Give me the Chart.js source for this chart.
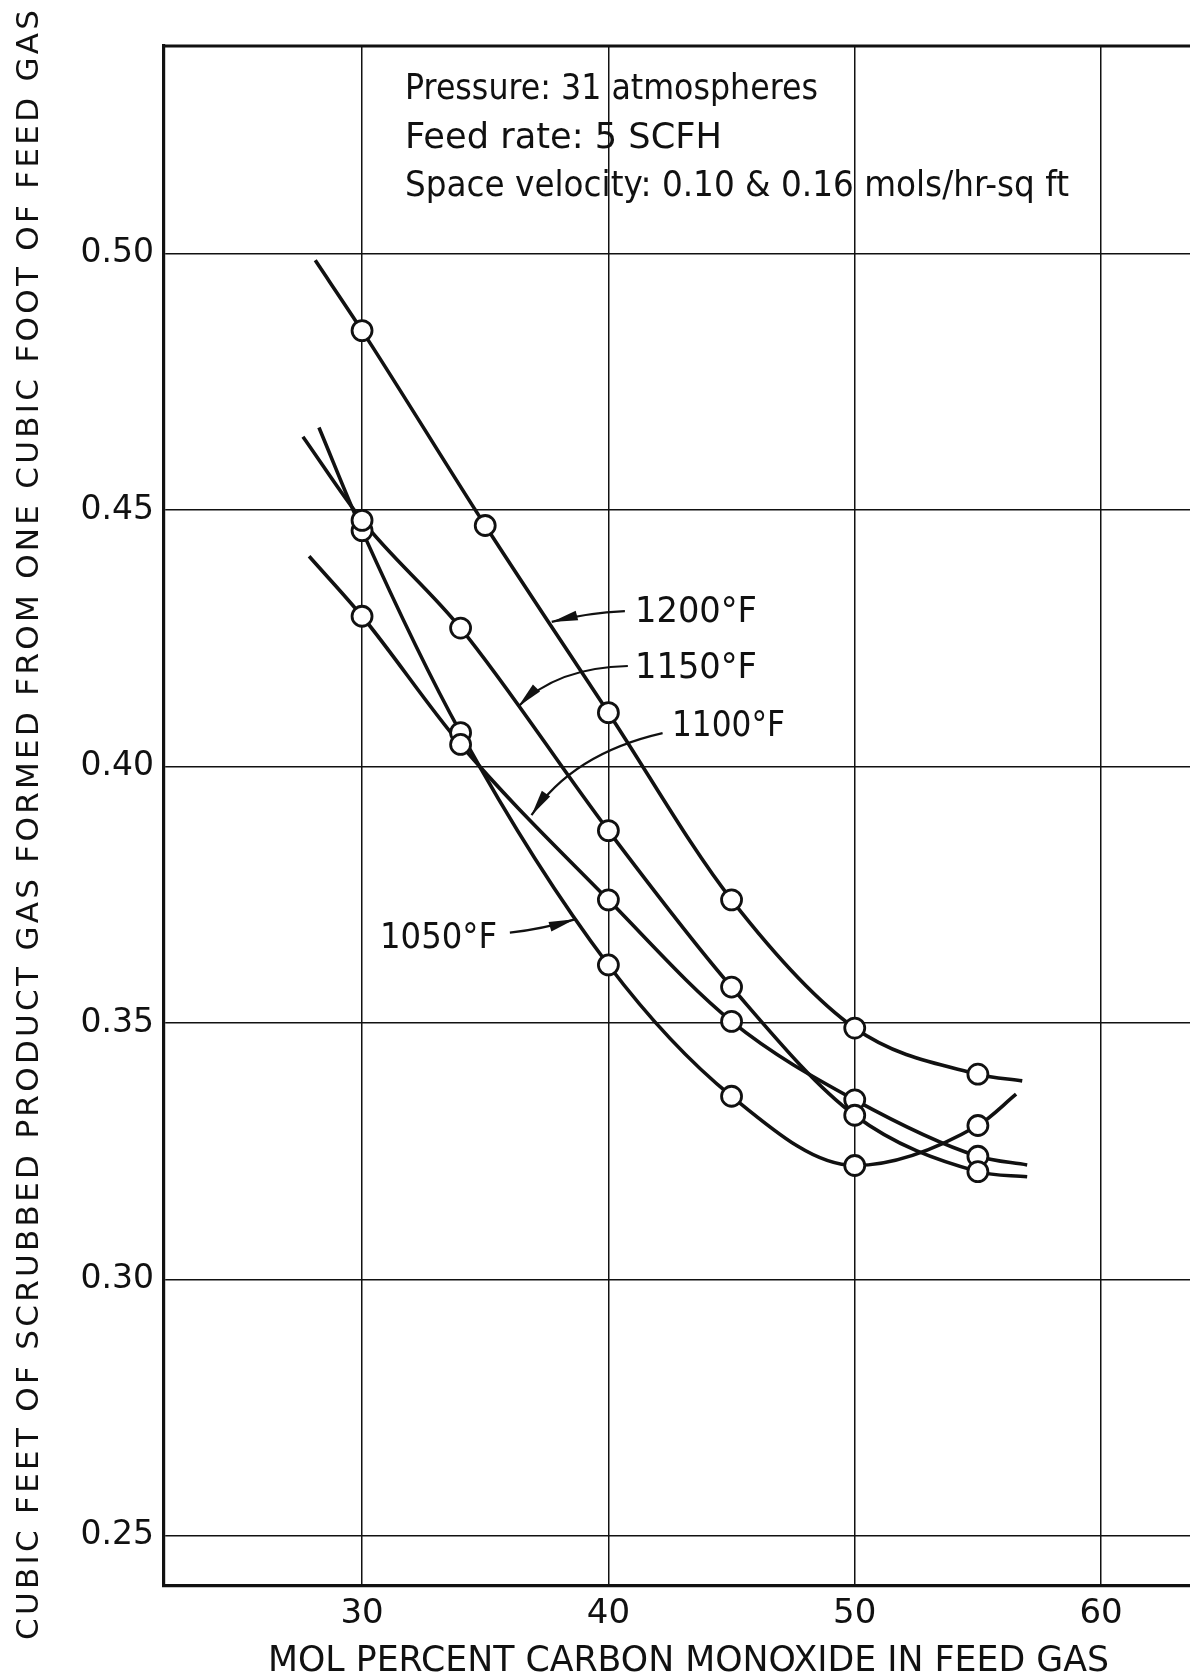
<!DOCTYPE html>
<html>
<head>
<meta charset="utf-8">
<title>Scrubbed product gas vs CO in feed gas</title>
<style>
  html, body { margin: 0; padding: 0; background: #fff; overflow: hidden; }
  canvas { display: block; }
</style>
<script src="https://cdn.jsdelivr.net/npm/chart.js@4.4.1/dist/chart.umd.min.js"></script>
</head>
<body>
<canvas id="coChart" width="1190" height="1679"></canvas>
<script>
// mol percent CO in the feed gas for each run
const coRuns = [30, 34, 40, 45, 50, 55];
const coRuns1200 = [30, 35, 40, 45, 50, 55];

// cu ft of scrubbed product gas per cu ft of feed gas
const gas1200 = [0.485, 0.447, 0.4105, 0.374, 0.349, 0.340];
const gas1150 = [0.448, 0.427, 0.3875, 0.357, 0.332, 0.321];
const gas1100 = [0.4293, 0.4043, 0.374, 0.3503, 0.335, 0.324];
const gas1050 = [0.446, 0.4066, 0.3613, 0.3357, 0.3222, 0.330];

// where each faired curve starts and stops past the runs
const ends1200 = [[28.1, 0.4987], [56.8, 0.3387]];
const ends1150 = [[27.6, 0.4643], [57.0, 0.320]];
const ends1100 = [[27.85, 0.441], [57.0, 0.3223]];
const ends1050 = [[28.25, 0.4661], [56.55, 0.3361]];

const xTicks = [30, 40, 50, 60];
const yTicks = [0.25, 0.30, 0.35, 0.40, 0.45, 0.50];

const INK = '#111';
const FONT = '"DejaVu Sans", "Liberation Sans", sans-serif';

const notes = [
  'Pressure: 31 atmospheres',
  'Feed rate: 5 SCFH',
  'Space velocity: 0.10 & 0.16 mols/hr-sq ft'
];

// curve tags: text anchor, arrow tail, bend and tip, all in axis units
const tags = [
  { text: '1200°F', w: 122, at: [41.08, 0.4307], from: [40.67, 0.4303], bend: [39.17, 0.4300], tip: [37.70, 0.4282] },
  { text: '1150°F', w: 122, at: [41.08, 0.4198], from: [40.79, 0.4196], bend: [37.90, 0.4193], tip: [36.34, 0.4117] },
  { text: '1100°F', w: 113, at: [42.58, 0.4085], from: [42.20, 0.4065], bend: [38.55, 0.4025], tip: [36.88, 0.3905] },
  { text: '1050°F', w: 117, at: [30.73, 0.3671], from: [36.00, 0.3676], bend: [37.30, 0.3683], tip: [38.64, 0.3702] }
];

function pts(xs, ys) {
  return xs.map((x, i) => ({ x: x, y: ys[i] }));
}

function curve(xs, ys, ends) {
  return [{ x: ends[0][0], y: ends[0][1] }].concat(pts(xs, ys), [{ x: ends[1][0], y: ends[1][1] }]);
}

function lineSet(data) {
  return {
    data: data,
    showLine: true,
    borderColor: INK,
    borderWidth: 3.6,
    pointRadius: 0,
    cubicInterpolationMode: 'monotone',
    order: 2
  };
}

function markSet(data) {
  return {
    data: data,
    showLine: false,
    pointRadius: 10,
    pointBorderWidth: 2.8,
    pointBackgroundColor: '#fff',
    pointBorderColor: INK,
    order: 1
  };
}

// stretch or squeeze a string to a given width
function fitText(ctx, str, x, y, width) {
  ctx.letterSpacing = '0px';
  const w = ctx.measureText(str).width;
  if (w < width && str.length > 1) {
    ctx.letterSpacing = ((width - w) / (str.length - 1)) + 'px';
    ctx.fillText(str, x, y);
    ctx.letterSpacing = '0px';
  } else {
    ctx.save();
    ctx.translate(x, y);
    ctx.scale(width / w, 1);
    ctx.fillText(str, 0, 0);
    ctx.restore();
  }
}

const paperPlugin = {
  id: 'paper',
  beforeDraw(chart) {
    const ctx = chart.ctx;
    ctx.save();
    ctx.fillStyle = '#fff';
    ctx.fillRect(0, 0, chart.width, chart.height);
    ctx.restore();
  },
  afterDraw(chart) {
    const ctx = chart.ctx;
    const a = chart.chartArea;
    const xs = chart.scales.x, ys = chart.scales.y;
    const px = v => xs.getPixelForValue(v);
    const py = v => ys.getPixelForValue(v);

    ctx.save();
    ctx.strokeStyle = INK;
    ctx.fillStyle = INK;

    // top edge of the frame
    ctx.lineWidth = 3;
    ctx.beginPath();
    ctx.moveTo(a.left - 1.5, a.top);
    ctx.lineTo(a.right, a.top);
    ctx.stroke();

    // test conditions
    ctx.font = '36px ' + FONT;
    ctx.textAlign = 'left';
    ctx.textBaseline = 'alphabetic';
    const noteW = [413, 317, 664];
    notes.forEach((s, i) => fitText(ctx, s, 405, 86 + i * 48.5 + 13, noteW[i]));

    // curve tags with arrows
    ctx.font = '35px ' + FONT;
    tags.forEach(t => {
      fitText(ctx, t.text, px(t.at[0]), py(t.at[1]) + 12.7, t.w);
      const x0 = px(t.from[0]), y0 = py(t.from[1]);
      const cx = px(t.bend[0]), cy = py(t.bend[1]);
      const x1 = px(t.tip[0]), y1 = py(t.tip[1]);
      ctx.lineWidth = 2.2;
      ctx.beginPath();
      ctx.moveTo(x0, y0);
      ctx.quadraticCurveTo(cx, cy, x1, y1);
      ctx.stroke();
      const ang = Math.atan2(y1 - cy, x1 - cx);
      const L = 26, W = 5;
      const bx = x1 - L * Math.cos(ang), by = y1 - L * Math.sin(ang);
      ctx.beginPath();
      ctx.moveTo(x1, y1);
      ctx.lineTo(bx + W * Math.sin(ang), by - W * Math.cos(ang));
      ctx.lineTo(bx - W * Math.sin(ang), by + W * Math.cos(ang));
      ctx.closePath();
      ctx.fill();
    });

    // axis titles
    ctx.font = '35px ' + FONT;
    fitText(ctx, 'MOL PERCENT CARBON MONOXIDE IN FEED GAS', 268, 1658 + 12.7, 841);

    ctx.font = '31px ' + FONT;
    ctx.translate(27, 1640);
    ctx.rotate(-Math.PI / 2);
    fitText(ctx, 'CUBIC FEET OF SCRUBBED PRODUCT GAS FORMED FROM ONE CUBIC FOOT OF FEED GAS', 0, 11.3, 1630);
    ctx.restore();
  }
};

new Chart(document.getElementById('coChart'), {
  type: 'scatter',
  data: {
    datasets: [
      lineSet(curve(coRuns1200, gas1200, ends1200)),
      lineSet(curve(coRuns, gas1150, ends1150)),
      lineSet(curve(coRuns, gas1100, ends1100)),
      lineSet(curve(coRuns, gas1050, ends1050)),
      markSet(pts(coRuns1200, gas1200)),
      markSet(pts(coRuns, gas1150)),
      markSet(pts(coRuns, gas1100)),
      markSet(pts(coRuns, gas1050))
    ]
  },
  options: {
    responsive: false,
    animation: false,
    events: [],
    layout: { autoPadding: false, padding: { top: 46, left: 0, right: 0, bottom: 0 } },
    plugins: { legend: { display: false }, tooltip: { enabled: false } },
    scales: {
      x: {
        type: 'linear',
        min: 21.96,
        max: 63.61,
        afterBuildTicks: s => { s.ticks = xTicks.map(v => ({ value: v })); },
        afterFit: s => { s.height = 93; },
        grid: { color: INK, lineWidth: 1.5, drawTicks: false },
        border: { display: true, color: INK, width: 3.2 },
        ticks: {
          color: INK,
          padding: 8,
          maxRotation: 0,
          font: { family: FONT, size: 34 },
          callback: v => String(v)
        }
      },
      y: {
        type: 'linear',
        min: 0.2402,
        max: 0.5405,
        afterBuildTicks: s => { s.ticks = yTicks.map(v => ({ value: v })); },
        afterFit: s => { s.width = 164; },
        grid: { color: INK, lineWidth: 1.5, drawTicks: false },
        border: { display: true, color: INK, width: 3.2 },
        ticks: {
          color: INK,
          padding: 10,
          font: { family: FONT, size: 33 },
          callback: v => v.toFixed(2)
        }
      }
    }
  },
  plugins: [paperPlugin]
});
</script>
</body>
</html>
